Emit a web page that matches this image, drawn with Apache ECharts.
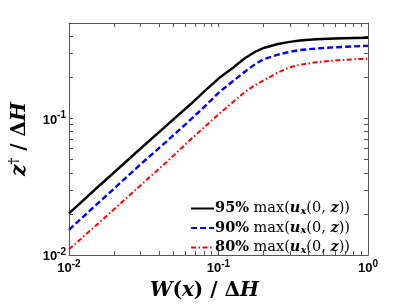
<!DOCTYPE html>
<html>
<head>
<meta charset="utf-8">
<script src="https://cdn.jsdelivr.net/npm/echarts@6/dist/echarts.min.js"></script>
<style>html,body{margin:0;padding:0;background:#fff;}#c{width:407px;height:306px;}</style>
</head>
<body>
<div id="c"></div>
<script>
// Data (log-log)
const W = [0.01, 0.015, 0.02, 0.03, 0.045, 0.065, 0.08, 0.1, 0.125, 0.15, 0.175, 0.2, 0.25, 0.3, 0.35, 0.45, 0.6, 0.8, 1.0];
const z95 = [0.0202, 0.0303, 0.0402, 0.060, 0.089, 0.127, 0.157, 0.196, 0.235, 0.276, 0.307, 0.328, 0.351, 0.364, 0.372, 0.380, 0.385, 0.388, 0.390];
const z90 = [0.0153, 0.023, 0.0306, 0.046, 0.068, 0.098, 0.121, 0.154, 0.188, 0.220, 0.249, 0.272, 0.293, 0.308, 0.317, 0.325, 0.332, 0.337, 0.340];
const z80 = [0.0110, 0.0163, 0.0216, 0.0323, 0.048, 0.070, 0.086, 0.107, 0.132, 0.156, 0.175, 0.190, 0.217, 0.237, 0.247, 0.258, 0.266, 0.271, 0.274];
const seriesNames = ['95%', '90%', '80%'];
const xTicks = [0.01,0.02,0.03,0.04,0.05,0.06,0.07,0.08,0.09,0.1,0.2,0.3,0.4,0.5,0.6,0.7,0.8,0.9,1];
const yTicks = [0.01,0.02,0.03,0.04,0.05,0.06,0.07,0.08,0.09,0.1,0.2,0.3,0.4,0.5];
const xLabels = [0.01, 0.1, 1];
const yLabels = [0.01, 0.1];

const pairs = arr => W.map((w, i) => [w, arr[i]]);
const fmt = v => { const e = Math.round(Math.log10(v)); return '{b|10}{s|' + (e < 0 ? '-' + (-e) : e) + '}'; };
const labRich = {
  b: {fontFamily: 'Liberation Sans', fontWeight: 'bold', fontSize: 13, color: '#000', lineHeight: 16, verticalAlign: 'bottom'},
  s: {fontFamily: 'Liberation Sans', fontWeight: 'bold', fontSize: 10, color: '#000', lineHeight: 16, verticalAlign: 'top'}
};
const lineC = '#555';
function axisBase(extra) {
  return Object.assign({
    type: 'log', logBase: 10,
    axisLine: {show: true, lineStyle: {color: lineC, width: 1}},
    splitLine: {show: false},
    minorTick: {show: false}
  }, extra);
}
const LF = 'DejaVu Serif';
const LS = 14.5;
const serifRich = {
  r: {fontFamily: LF, fontSize: LS, color: '#000', lineHeight: 15},
  b: {fontFamily: LF, fontWeight: 'bold', fontSize: LS, color: '#000', lineHeight: 15},
  bi: {fontFamily: LF, fontWeight: 'bold', fontStyle: 'italic', fontSize: LS, color: '#000', lineHeight: 15},
  sub: {fontFamily: LF, fontWeight: 'bold', fontStyle: 'italic', fontSize: 10, color: '#000', verticalAlign: 'bottom', lineHeight: 13}
};
const nameRich = {
  b: {fontFamily: 'DejaVu Serif', fontWeight: 'bold', fontSize: 20, color: '#000'},
  bi: {fontFamily: 'DejaVu Serif', fontWeight: 'bold', fontStyle: 'italic', fontSize: 20, color: '#000'},
  sup: {fontFamily: 'DejaVu Serif', fontWeight: 'bold', fontSize: 13, color: '#000', verticalAlign: 'top', lineHeight: 24}
};

const chart = echarts.init(document.getElementById('c'), null, {renderer: 'canvas'});
chart.setOption({
  animation: false,
  backgroundColor: '#fff',
  grid: {left: 53, right: 39, top: 23, bottom: 42, containLabel: false},
  xAxis: [
    axisBase({min: 0.01, max: 1, position: 'bottom',
      name: '{bi|W}{b|(}{bi|x}{b|) / Δ}{bi|H}', nameLocation: 'middle', nameGap: 26,
      nameTextStyle: {rich: nameRich, padding: [0, 28, 0, 0]},
      axisTick: {show: true, inside: true, length: 4, lineStyle: {color: lineC}, customValues: xTicks},
      axisLabel: {show: true, margin: 4, customValues: xLabels, formatter: fmt, rich: labRich}
    }),
    axisBase({min: 0.01, max: 1, position: 'top',
      axisTick: {show: true, inside: true, length: 4, lineStyle: {color: lineC}, customValues: xTicks},
      axisLabel: {show: false}
    })
  ],
  yAxis: [
    axisBase({min: 0.01, max: 0.5, position: 'left',
      name: '{bi|z}{sup|†}{b| / Δ}{bi|H}', nameLocation: 'middle', nameGap: 37,
      nameTextStyle: {rich: nameRich},
      axisTick: {show: true, inside: true, length: 4, lineStyle: {color: lineC}, customValues: yTicks},
      axisLabel: {show: true, margin: 3, customValues: yLabels, formatter: fmt, rich: labRich}
    }),
    axisBase({min: 0.01, max: 0.5, position: 'right',
      axisTick: {show: true, inside: true, length: 4, lineStyle: {color: lineC}, customValues: yTicks},
      axisLabel: {show: false}
    })
  ],
  legend: {
    orient: 'vertical', right: 52, top: 196, itemGap: 4.5,
    itemWidth: 23, itemHeight: 15,
    backgroundColor: 'transparent',
    itemStyle: {opacity: 0},
    formatter: n => '{b|' + n + '}{r| max(}{bi|u}{sub|x}{r|(0, }{bi|z}{r|))}',
    textStyle: {rich: serifRich, padding: [0,0,0,-4]},
    data: seriesNames.map(n => ({name: n}))
  },
  series: [
    {name: seriesNames[0], type: 'line', symbol: 'none', data: pairs(z95), color: '#000', lineStyle: {color: '#000', width: 2.4, type: 'solid'}},
    {name: seriesNames[1], type: 'line', symbol: 'none', data: pairs(z90), color: '#0000ff', lineStyle: {color: '#0000ff', width: 2.4, type: [6, 3]}},
    {name: seriesNames[2], type: 'line', symbol: 'none', data: pairs(z80), color: '#ff0000', lineStyle: {color: '#ff0000', width: 2, type: [5, 2.5, 1.5, 2.5]}}
  ]
});
</script>
</body>
</html>
